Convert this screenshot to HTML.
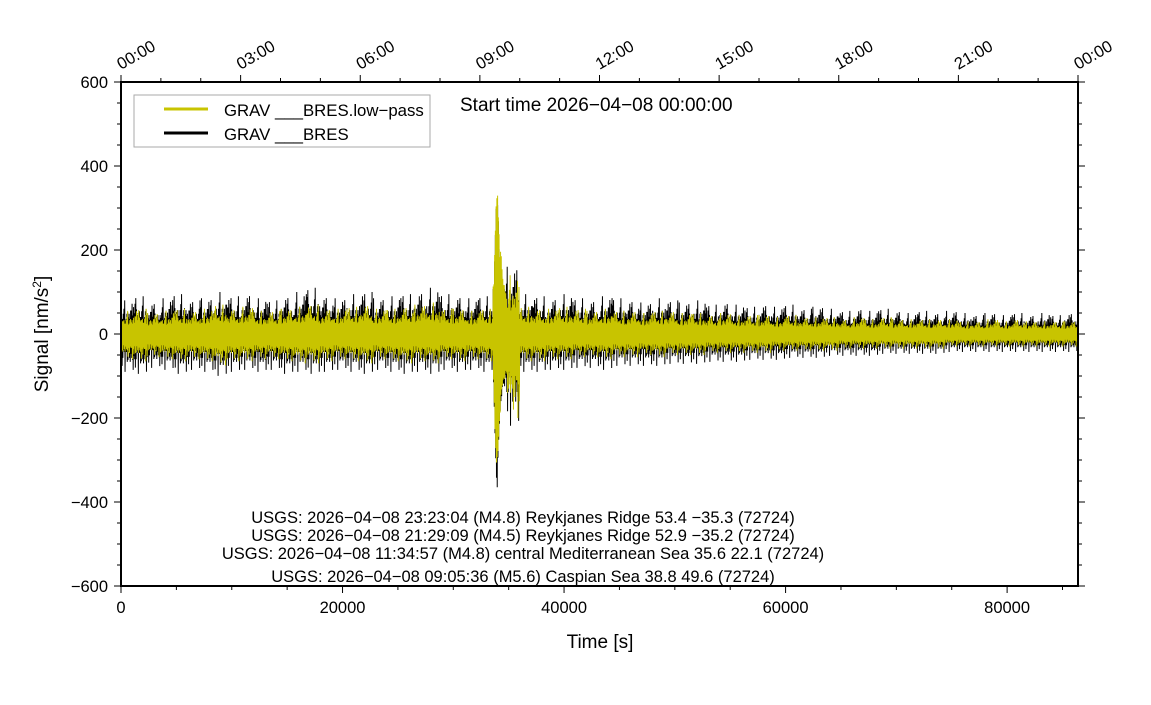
<!DOCTYPE html>
<html><head><meta charset="utf-8"><style>
body{margin:0;background:#fff}
svg text{font-family:"Liberation Sans",sans-serif;fill:#000}
</style></head><body>
<svg id="c" width="1151" height="700" viewBox="0 0 1151 700">
<rect width="1151" height="700" fill="#fff"/>
<g id="series"></g>
<g id="axes"></g>
<rect x="121" y="82" width="957" height="504" fill="none" stroke="#000" stroke-width="2"/>
<g>
<rect x="134" y="95" width="296" height="52" fill="#fff" stroke="#aaa"/>
<line x1="164" y1="109" x2="208" y2="109" stroke="#c8c400" stroke-width="3"/>
<text x="224" y="116" font-size="16.8">GRAV ___BRES.low−pass</text>
<line x1="164" y1="133" x2="208" y2="133" stroke="#000" stroke-width="3"/>
<text x="224" y="140" font-size="16.8">GRAV ___BRES</text>
</g>
<text x="460" y="111" font-size="19">Start time 2026−04−08 00:00:00</text>
<g font-size="16.5" text-anchor="middle">
<text x="523" y="523">USGS: 2026−04−08 23:23:04 (M4.8) Reykjanes Ridge 53.4 −35.3 (72724)</text>
<text x="523" y="541">USGS: 2026−04−08 21:29:09 (M4.5) Reykjanes Ridge 52.9 −35.2 (72724)</text>
<text x="523" y="559">USGS: 2026−04−08 11:34:57 (M4.8) central Mediterranean Sea 35.6 22.1 (72724)</text>
<text x="523" y="582">USGS: 2026−04−08 09:05:36 (M5.6) Caspian Sea 38.8 49.6 (72724)</text>
</g>
<text x="600" y="648" font-size="19" text-anchor="middle">Time [s]</text>
<text transform="translate(48,334) rotate(-90)" font-size="19" text-anchor="middle">Signal [nm/s<tspan font-size="12" dy="-7">2</tspan><tspan dy="7">]</tspan></text>
</svg>
<script>
const yTicks=[-600,-400,-200,0,200,400,600];
const xTicks=[0,20000,40000,60000,80000];
const topTicks=["00:00","03:00","06:00","09:00","12:00","15:00","18:00","21:00","00:00"];
const binSec=1200;
const blackHi=[80,90,75,85,95,80,85,100,90,95,85,80,90,100,110,90,85,95,100,85,90,95,100,110,95,90,85,90,340,160,95,90,85,95,85,80,90,85,80,75,85,80,75,80,70,75,70,65,70,65,70,60,65,60,55,60,55,60,55,50,55,50,55,50,45,50,45,50,45,50,45,50];
const blackLo=[-95,-100,-85,-90,-100,-90,-95,-105,-95,-90,-95,-90,-100,-95,-100,-95,-90,-95,-100,-90,-95,-100,-95,-100,-90,-95,-90,-95,-365,-230,-95,-95,-90,-90,-85,-85,-90,-80,-80,-80,-80,-75,-75,-75,-70,-70,-70,-65,-65,-65,-60,-60,-60,-55,-55,-55,-55,-50,-50,-50,-50,-50,-45,-45,-45,-45,-45,-45,-45,-45,-45,-45];
const yellowHi=[55,60,50,55,60,55,60,70,60,65,55,55,60,65,70,60,60,65,70,60,60,65,70,75,60,60,55,60,375,140,65,60,60,65,60,55,60,55,55,50,55,55,50,50,45,50,45,45,45,40,45,40,40,40,35,40,35,40,35,35,35,35,35,30,30,35,30,35,30,30,30,30];
const yellowLo=[-60,-65,-55,-60,-65,-60,-65,-75,-65,-65,-60,-60,-65,-70,-70,-65,-60,-65,-70,-60,-65,-70,-65,-70,-60,-65,-60,-65,-340,-200,-65,-65,-60,-60,-55,-55,-60,-55,-55,-50,-55,-50,-50,-50,-45,-45,-45,-45,-45,-40,-40,-40,-40,-40,-35,-35,-35,-35,-35,-35,-35,-35,-30,-30,-30,-30,-30,-30,-30,-30,-30,-30];
const NS="http://www.w3.org/2000/svg";
const X0=121,X1=1078,Y0=586,Y1=82,TMAX=86400;
function sx(t){return X0+(X1-X0)*t/TMAX;}
function sy(v){return Y0-(Y0-Y1)*(v+600)/1200;}
const shape=[0.6,0.45,0.7,0.55,1,0.45,0.65,0.6,0.5,0.8,0.45,0.6,0.9,0.55,0.4,0.7,0.5,0.75,0.6,0.95,0.45,0.65,0.55];
const taper=[0.35,0.55,0.75,0.9,1,0.95,0.8,0.65,0.55,0.5,0.45,0.4,0.35,0.35,0.3,0.3];
function drawSeries(hi,lo,color,name,w,seed){
  let d="";let k=0;const sub=36;
  for(let i=0;i<hi.length;i++){
    const big=hi[i]>200;
    for(let j=0;j<sub;j++){
      const t=(i+j/sub)*binSec;
      let f=shape[(k*5+i*3+seed)%23];
      if(big)f=taper[Math.floor(j*16/sub)]*(0.75+0.25*f);
      const g=big?f:shape[(k*7+i+seed+11)%23];
      const v=(k%2===0)?hi[i]*f:lo[i]*g;
      d+=(k===0?"M":"L")+sx(t).toFixed(2)+","+sy(v).toFixed(1);
      k++;
    }
  }
  const p=document.createElementNS(NS,"path");
  p.setAttribute("d",d);p.setAttribute("fill","none");p.setAttribute("stroke",color);p.setAttribute("stroke-width",w);
  
  
  document.getElementById("series").appendChild(p);
}
drawSeries(blackHi,blackLo,"#000","raw-signal-line",1,0);
drawSeries(yellowHi,yellowLo,"#c8c400","lowpass-signal-line",1,6);
const ax=document.getElementById("axes");
function mk(tag,attrs){const e=document.createElementNS(NS,tag);for(const a in attrs)e.setAttribute(a,attrs[a]);ax.appendChild(e);return e;}
for(let v=-600;v<=600;v+=50){
  const major=v%200===0;
  const l=mk("line",{x1:X0-(major?7:4),x2:X0,y1:sy(v),y2:sy(v),stroke:"#000","stroke-width":1});
  
  
  const r=mk("line",{x1:X1,x2:X1+(major?7:4),y1:sy(v),y2:sy(v),stroke:"#000","stroke-width":1});
  
  
}
yTicks.forEach(v=>{
  const t=mk("text",{x:X0-13,y:sy(v)+6,"font-size":16.5,"text-anchor":"end"});
  t.textContent=(v<0?"−"+(-v):v);
  
  
});
for(let s=0;s<=TMAX;s+=5000){
  const major=s%20000===0;
  const l=mk("line",{x1:sx(s),x2:sx(s),y1:Y0,y2:Y0+(major?7:4),stroke:"#000","stroke-width":1});
  
  
}
xTicks.forEach(s=>{
  const t=mk("text",{x:sx(s),y:Y0+27,"font-size":16.5,"text-anchor":"middle"});
  t.textContent=s;
  
  
});
for(let h=0;h<=24;h++){
  const major=h%3===0;
  const l=mk("line",{x1:sx(h*3600),x2:sx(h*3600),y1:Y1,y2:Y1-(major?7:4),stroke:"#000","stroke-width":1});
  
  
}
topTicks.forEach((lab,i)=>{
  const x=sx(i*3*3600);
  const t=mk("text",{x:x,y:Y1-12,"font-size":16.5,transform:"rotate(-30 "+x+" "+(Y1-12)+")"});
  t.textContent=lab;
  
  
});
</script>
</body></html>
